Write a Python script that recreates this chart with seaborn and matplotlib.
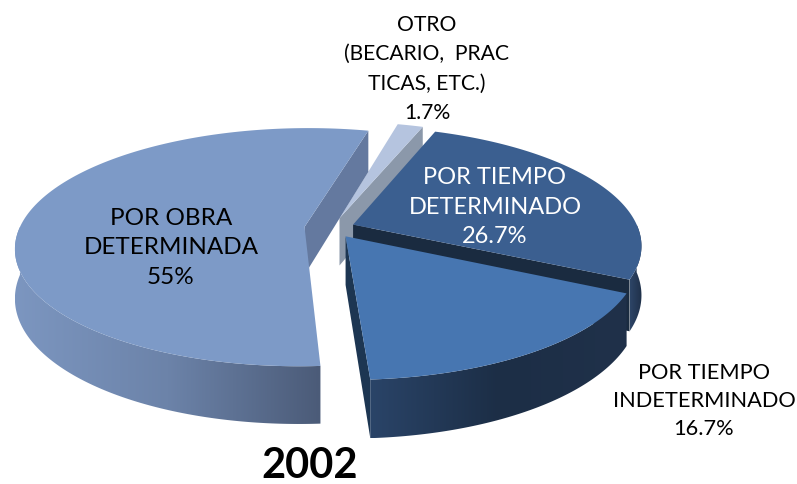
import matplotlib
matplotlib.use("Agg")
import matplotlib.pyplot as plt
import numpy as np
import seaborn as sns

from matplotlib.patches import Polygon

# values
categories = ["POR OBRA\nDETERMINADA", "POR TIEMPO\nINDETERMINADO", "POR TIEMPO\nDETERMINADO",
              "OTRO\n(BECARIO,  PRAC\nTICAS, ETC.)"]
values = [55, 16.7, 26.7, 1.7]
pct_labels = ["55%", "16.7%", "26.7%", "1.7%"]
year = "2002"

explode = [0.097, 0.085, 0.08, 0.09]
top_colors = ["#7d9ac7", "#4776b1", "#3b5f90", "#b5c4df"]
face_colors = ["#64799f", "#1d3652", "#1a2b40", "#8b98aa"]
rim_colors = [["#7c96c0", "#6c83a9", "#4b5b78"], ["#2a4468", "#1c2e46", "#20314a"], ["#2d4567", "#1f3049"],
              ["#8b98aa", "#8b98aa"]]

# pie projection, screen px
CX, CY = 332, 228
AX_X, AX_Y, DEPTH, PERSP = 285, 116, 48, 0.17


def project(x, y, z=0.0):
    s = 1 / (1 + PERSP * y)
    return CX + AX_X * x * s, CY - AX_Y * y * s + DEPTH * z * s


def arc(wedge, t1, t2, z=0.0):
    t = np.radians(np.linspace(t1, t2, 150))
    x = wedge.center[0] + wedge.r * np.cos(t)
    y = wedge.center[1] + wedge.r * np.sin(t)
    return np.column_stack(project(x, y, z))


def visible_range(t1, t2):
    # only the part of the outer rim that looks to the front
    if t1 < 180:
        t1 = 180 if t2 > 180 else t1
    if t2 > 360:
        t2 = 360
    return t1, t2


sns.set_theme(style="white")
plt.rcParams["font.family"] = ["Lato", "DejaVu Sans"]

fig = plt.figure(figsize=(7.97, 4.84), dpi=100)
ax = fig.add_axes([0, 0, 1, 1])
wedges, _ = ax.pie(values, explode=explode, startangle=75.8, counterclock=True, colors=top_colors)
for w in wedges:
    w.set_visible(False)

# back to front: otro, determinado, obra, indeterminado
zorder = 2
for i in [3, 2, 0, 1]:
    w = wedges[i]
    apex = np.array(project(w.center[0], w.center[1]))
    apex_low = np.array(project(w.center[0], w.center[1], 1.0))

    # cut face at the first angle
    edge = arc(w, w.theta1, w.theta1)
    edge_low = arc(w, w.theta1, w.theta1, 1.0)
    ax.add_patch(Polygon([apex, edge[0], edge_low[0], apex_low], closed=True, fc=face_colors[i], ec="none",
                         zorder=zorder))
    zorder += 1

    # outer rim with a left to right gradient
    t1, t2 = visible_range(w.theta1, w.theta2)
    if t2 > 180 and t1 < t2 and i != 3:
        upper = arc(w, t1, t2)
        lower = arc(w, t1, t2, 1.0)
        rim = Polygon(np.vstack([upper, lower[::-1]]), closed=True, fc="none", ec="none", zorder=zorder)
        ax.add_patch(rim)
        cmap = sns.blend_palette(rim_colors[i], as_cmap=True)
        xs = np.vstack([upper, lower])
        im = ax.imshow(np.linspace(0, 1, 256).reshape(1, -1), cmap=cmap, aspect="auto", zorder=zorder,
                       extent=(xs[:, 0].min(), xs[:, 0].max(), xs[:, 1].max(), xs[:, 1].min()))
        im.set_clip_path(rim)
    zorder += 1

    # top face
    top = np.vstack([apex, arc(w, w.theta1, w.theta2)])
    ax.add_patch(Polygon(top, closed=True, fc=top_colors[i], ec="none", zorder=zorder))
    zorder += 1

ax.set_xlim(0, 797)
ax.set_ylim(484, 0)
ax.set_aspect("auto")
ax.axis("off")

# labels, same order as categories
label_pos = [(171, 248), (704, 401), (495, 207), (427, 69)]
label_col = ["black", "black", "white", "black"]
label_size = [17.5, 15.7, 17, 15.2]
label_gap = [1.5, 1.47, 1.52, 1.6]
for name, pct, pos, col, size, gap in zip(categories, pct_labels, label_pos, label_col, label_size, label_gap):
    ax.text(pos[0], pos[1], f"{name}\n{pct}", ha="center", va="center", fontsize=size, color=col,
            linespacing=gap, zorder=50)

ax.text(310, 466, year, ha="center", va="center", fontsize=30, fontweight="bold", color="black", zorder=50)

fig.savefig("out.png", dpi=100)
plt.close(fig)
